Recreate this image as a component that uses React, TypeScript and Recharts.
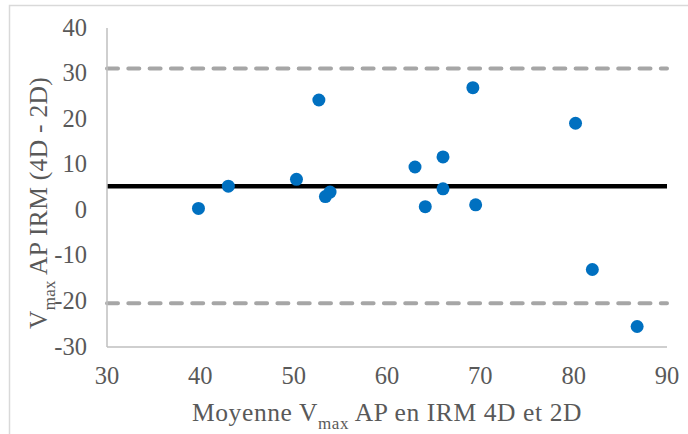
import React from "react";
import {
  ScatterChart,
  Scatter,
  XAxis,
  YAxis,
  ReferenceLine,
} from "recharts";

// moyenne des deux mesures (x) et différence 4D - 2D (y)
const meanValues = [39.8, 43.0, 50.3, 52.7, 53.4, 53.9, 63.0, 64.1, 66.0, 66.0, 69.2, 69.5, 80.2, 82.0, 86.8];
const diffValues = [0.4, 5.3, 6.8, 24.2, 3.0, 4.0, 9.5, 0.8, 11.7, 4.7, 26.9, 1.2, 19.1, -13.0, -25.5];

const biasValue = 5.3;
const upperLimit = 31.1;
const lowerLimit = -20.4;

const xTicks = [30, 40, 50, 60, 70, 80, 90];
const yTicks = [-30, -20, -10, 0, 10, 20, 30, 40];

const points = meanValues.map((x, i) => ({ x, y: diffValues[i] }));

const FONT = "'Liberation Serif', 'Times New Roman', serif";
const TEXT = "#595959";

function XTick(props: any) {
  return (
    <text x={props.x} y={props.y + 16.5} textAnchor="middle" fill={TEXT} fontSize={24.5} fontFamily={FONT}>
      {props.payload.value}
    </text>
  );
}

function YTick(props: any) {
  return (
    <text x={props.x} y={props.y + 7.5} textAnchor="end" fill={TEXT} fontSize={24.5} fontFamily={FONT}>
      {props.payload.value}
    </text>
  );
}

export default function App() {
  return (
    <div
      style={{
        position: "absolute",
        left: 0,
        top: 0,
        width: 688,
        height: 434,
        background: "#fff",
        fontFamily: FONT,
      }}
    >
      <ScatterChart
        width={688}
        height={434}
        margin={{ top: 28, right: 21, bottom: 0, left: 0 }}
      >
        <XAxis
          type="number"
          dataKey="x"
          domain={[30, 90]}
          ticks={xTicks}
          height={87}
          axisLine={{ stroke: "#bfbfbf", strokeWidth: 1.5 }}
          tickLine={false}
          tickSize={0}
          tickMargin={20}
          tick={<XTick />}
          interval={0}
        />
        <YAxis
          type="number"
          dataKey="y"
          domain={[-30, 40]}
          ticks={yTicks}
          width={107}
          axisLine={{ stroke: "#bfbfbf", strokeWidth: 1.5 }}
          tickLine={false}
          tickSize={0}
          tickMargin={20}
          tick={<YTick />}
          interval={0}
        />
        <ReferenceLine
          y={upperLimit}
          stroke="#a6a6a6"
          strokeWidth={4}
          strokeDasharray="11 10.3"
          strokeLinecap="round"
        />
        <ReferenceLine
          y={lowerLimit}
          stroke="#a6a6a6"
          strokeWidth={4}
          strokeDasharray="11 10.3"
          strokeLinecap="round"
        />
        <ReferenceLine y={biasValue} stroke="#000" strokeWidth={4.5} />
        <Scatter
          data={points}
          isAnimationActive={false}
          shape={(p: any) => <circle cx={p.cx} cy={p.cy} r={6.5} fill="#0070C0" />}
        />
      </ScatterChart>
      <svg
        width={688}
        height={434}
        style={{ position: "absolute", left: 0, top: 0, pointerEvents: "none" }}
      >
        <rect x={9.5} y={5.5} width={700} height={500} fill="none" stroke="#d9d9d9" strokeWidth={1.5} />
        <text
          x={47}
          y={203}
          transform="rotate(-90, 47, 203)"
          textAnchor="middle"
          fill={TEXT}
          fontSize={25.5}
          letterSpacing={0.3}
          fontFamily={FONT}
        >
          V<tspan fontSize={17} dy={8}>max</tspan>
          <tspan dy={-8}> AP IRM (4D - 2D)</tspan>
        </text>
        <text
          x={387}
          y={421}
          textAnchor="middle"
          fill={TEXT}
          fontSize={25.5}
          letterSpacing={0.6}
          fontFamily={FONT}
        >
          Moyenne V<tspan fontSize={17} dy={8}>max</tspan>
          <tspan dy={-8}> AP en IRM 4D et 2D</tspan>
        </text>
      </svg>
    </div>
  );
}
